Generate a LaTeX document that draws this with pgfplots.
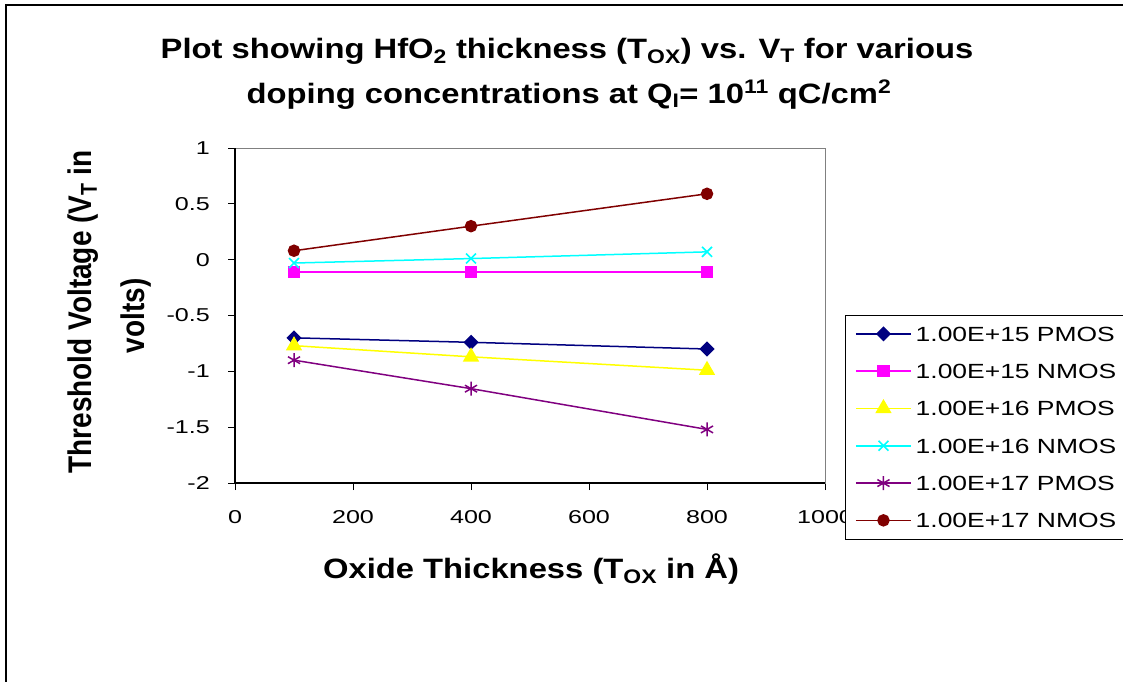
\documentclass[border=0pt]{standalone}
\usepackage{fontspec}
\setmainfont{Liberation Sans}
\newfontfamily\titlefont[FakeStretch=1.17]{Liberation Sans}
\newfontfamily\tickfont[FakeStretch=1.35]{Liberation Sans}
\newfontfamily\legfont[FakeStretch=1.29]{Liberation Sans}
\usepackage{graphicx}
\usepackage{pgfplots}
\pgfplotsset{compat=1.18}
\definecolor{cNavy}{RGB}{0,0,128}
\definecolor{cMag}{RGB}{255,0,255}
\definecolor{cYel}{RGB}{255,255,0}
\definecolor{cCyan}{RGB}{0,255,255}
\definecolor{cPurp}{RGB}{128,0,128}
\definecolor{cDRed}{RGB}{128,0,0}
\begin{document}
\begin{tikzpicture}[x=1pt,y=1pt]
\path[use as bounding box] (0,0) rectangle (1123,-681);
\draw[line width=1.3pt] (6,-685) -- (6,-5) -- (1127,-5);
\begin{axis}[
  at={(235pt,-483pt)}, anchor=south west,
  scale only axis, width=590pt, height=335pt,
  xmin=0, xmax=1000, ymin=-2, ymax=1,
  xtick={0,200,400,600,800,1000}, xticklabels={0,200,400,600,800,1000},
  ytick={-2,-1.5,-1,-0.5,0,0.5,1}, yticklabels={-2,-1.5,-1,-0.5,0,0.5,1},
  tick align=outside, major tick length=7pt,
  xtick pos=left, ytick pos=left,
  tick style={black, line width=1pt},
  axis line style={gray, line width=1pt},
  ticklabel style={font=\tickfont\fontsize{18.6}{20}\selectfont, text=black},
  yticklabel style={anchor=east, inner sep=0pt, xshift=-18pt},
  xticklabel style={anchor=north, inner sep=0pt, yshift=-20pt},
  legend cell align=left,
  legend style={at={(1.0339,0.5015)}, anchor=north west, draw=black, fill=white,
    font=\legfont\fontsize{20.5}{22}\selectfont, inner xsep=10pt, inner ysep=8pt, row sep=16pt,
    nodes={inner xsep=4pt, inner ysep=0pt, text height=18pt, text depth=3.3pt}},
  legend image code/.code={\draw[mark repeat=2, mark phase=2] plot coordinates {(0pt,0pt)(27.5pt,0pt)(55pt,0pt)};},
  after end axis/.code={\draw[black, line width=1.3pt] (rel axis cs:0,1) -- (rel axis cs:0,0) -- (rel axis cs:1,0);},
]
\addplot[cNavy, line width=1.5pt, mark=square*, mark size=4.6pt, mark options={rotate=45, solid}] coordinates {(100,-0.70) (400,-0.74) (800,-0.80)};
\addlegendentry{1.00E+15 PMOS}
\addplot[cMag, line width=1.5pt, mark=square*, mark size=5.3pt, mark options={solid}] coordinates {(100,-0.11) (400,-0.11) (800,-0.11)};
\addlegendentry{1.00E+15 NMOS}
\addplot[cYel, line width=1.5pt, mark=triangle*, mark size=8pt, mark options={solid}] coordinates {(100,-0.77) (400,-0.87) (800,-0.99)};
\addlegendentry{1.00E+16 PMOS}
\addplot[cCyan, line width=1.5pt, mark=x, mark size=7pt, mark options={solid, line width=1.6pt}] coordinates {(100,-0.03) (400,0.01) (800,0.07)};
\addlegendentry{1.00E+16 NMOS}
\addplot[cPurp, line width=1.5pt, mark=asterisk, mark size=7pt, mark options={solid, line width=1.5pt}] coordinates {(100,-0.90) (400,-1.155) (800,-1.52)};
\addlegendentry{1.00E+17 PMOS}
\addplot[cDRed, line width=1.5pt, mark=*, mark size=5.5pt, mark options={solid}] coordinates {(100,0.08) (400,0.30) (800,0.59)};
\addlegendentry{1.00E+17 NMOS}
\end{axis}
\node[anchor=base, font=\titlefont\bfseries\fontsize{28}{30}\selectfont] at (567,-58) {Plot showing HfO\textsubscript{2} thickness (T\textsubscript{OX}) vs. V\textsubscript{T} for various};
\node[anchor=base, font=\titlefont\bfseries\fontsize{28}{30}\selectfont] at (569,-103) {doping concentrations at Q\textsubscript{I}= 10\textsuperscript{11} qC/cm\textsuperscript{2}};
\node[anchor=base, font=\titlefont\bfseries\fontsize{28}{30}\selectfont] at (531,-578) {Oxide Thickness (T\textsubscript{OX} in Å)};
\node[rotate=90, anchor=base, font=\bfseries\fontsize{28}{30}\selectfont] at (91,-312) {\scalebox{1}[1.17]{Threshold Voltage (V\textsubscript{T} in}};
\node[rotate=90, anchor=base, font=\bfseries\fontsize{28}{30}\selectfont] at (144,-316) {\scalebox{1}[1.17]{volts)}};
\end{tikzpicture}
\end{document}
